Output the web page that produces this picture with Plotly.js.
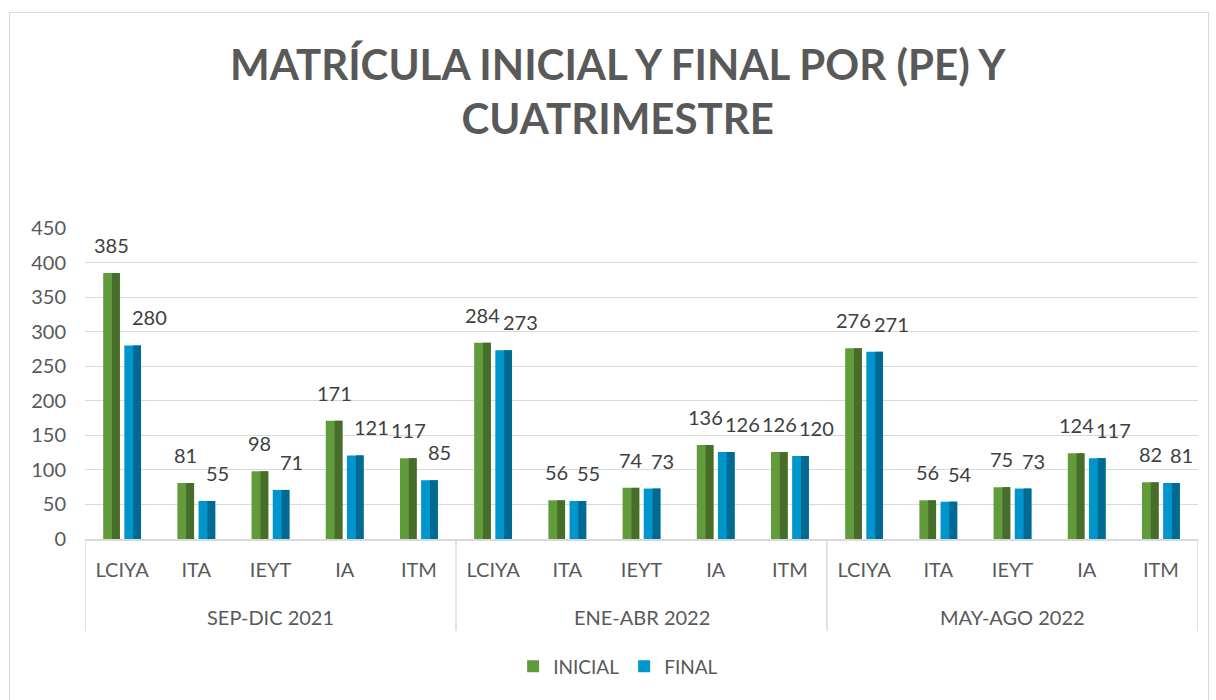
<!DOCTYPE html>
<html>
<head>
<meta charset="utf-8">
<script src="https://cdn.plot.ly/plotly-3.0.1.min.js"></script>
<style>
  html, body { margin: 0; padding: 0; background: #ffffff; }
  #chart { width: 1216px; height: 700px; position: absolute; left: 0; top: 0; }
  #frame { position: absolute; left: 9px; top: 12px; width: 1198px; height: 700px; border: 1.5px solid #d9d9d9; pointer-events: none; }
</style>
</head>
<body>
<div id="chart"></div>
<div id="frame"></div>
<script>
// ---- data ----
const periods = ["SEP-DIC 2021", "ENE-ABR 2022", "MAY-AGO 2022"];
const programs = ["LCIYA", "ITA", "IEYT", "IA", "ITM"];
const inicial = [385, 81, 98, 171, 117, 284, 56, 74, 136, 126, 276, 56, 75, 124, 82];
const final_ = [280, 55, 71, 121, 85, 273, 55, 73, 126, 120, 271, 54, 73, 117, 81];
const seriesNames = ["INICIAL", "FINAL"];
const yTicks = [0, 50, 100, 150, 200, 250, 300, 350, 400, 450];

// build multicategory positions
const xGroups = [], xCats = [];
periods.forEach(p => programs.forEach(c => { xGroups.push(p); xCats.push(c); }));
const idx = xCats.map((_, i) => i);
const nCat = xCats.length;

const textColor = "#595959";
const font = "Lato, 'Open Sans', sans-serif";

const BW = 0.225;
const OFF_G = -0.255, OFF_B = 0.03;
const DARK_FRAC = 0.47;

function bar(vals, name, color, off, w, legend) {
  return {
    type: "bar", x: [xGroups, xCats], y: vals, name: name,
    offset: off, width: w,
    marker: { color: color, line: { width: 0 } },
    showlegend: legend, hoverinfo: legend ? "x+y+name" : "skip"
  };
}

const traces = [
  bar(inicial, seriesNames[0], "#629b3c", OFF_G, BW, true),
  bar(inicial, seriesNames[0], "#466d29", OFF_G + BW * (1 - DARK_FRAC), BW * DARK_FRAC, false),
  bar(final_, seriesNames[1], "#0096cd", OFF_B, BW, true),
  bar(final_, seriesNames[1], "#006a92", OFF_B + BW * (1 - DARK_FRAC), BW * DARK_FRAC, false),
  // invisible helper for the label axis
  { type: "scatter", x: idx, y: inicial, xaxis: "x2", mode: "markers", marker: { opacity: 0 }, showlegend: false, hoverinfo: "skip" }
];

const annotations = [];
idx.forEach(i => {
  annotations.push({
    xref: "x2", yref: "y", x: i + OFF_G + BW / 2, y: inicial[i],
    text: String(inicial[i]), showarrow: false, xanchor: "center", yanchor: "bottom",
    yshift: 14, font: { family: font, size: 20, color: "#404040" }
  });
  annotations.push({
    xref: "x2", yref: "y", x: i + OFF_B + BW / 2, y: final_[i],
    text: String(final_[i]), showarrow: false, xanchor: "left", yanchor: "bottom",
    yshift: 14, xshift: -3, font: { family: font, size: 20, color: "#404040" }
  });
});

// group labels and dividers
const shapes = [];
const divLow = -(631 - 539) / 311;
let start = 0;
periods.forEach((p, g) => {
  const n = xGroups.filter(v => v === p).length;
  annotations.push({
    xref: "x2", yref: "paper", x: start + (n - 1) / 2, y: -(617 - 539) / 311,
    text: p, showarrow: false, xanchor: "center", yanchor: "middle",
    font: { family: font, size: 20, color: textColor }
  });
  shapes.push({
    type: "line", xref: "x2", yref: "paper", x0: start - 0.5, x1: start - 0.5, y0: 0, y1: divLow,
    line: { color: "#d9d9d9", width: 1.5 }
  });
  start += n;
});
shapes.push({
  type: "line", xref: "x2", yref: "paper", x0: start - 0.5, x1: start - 0.5, y0: 0, y1: divLow,
  line: { color: "#d9d9d9", width: 1.5 }
});

const layout = {
  width: 1216, height: 700,
  paper_bgcolor: "rgba(0,0,0,0)", plot_bgcolor: "rgba(0,0,0,0)",
  margin: { l: 85, r: 18, t: 228, b: 161 },
  font: { family: font, color: textColor, size: 20 },
  title: {
    text: "MATRÍCULA INICIAL Y FINAL POR (PE) Y<br>CUATRIMESTRE",
    x: 0.508, xanchor: "center", y: 0.886, yanchor: "top",
    font: { family: font, size: 42, color: textColor, weight: "bold" }
  },
  barmode: "overlay",
  xaxis: {
    type: "multicategory",
    showgrid: false, showline: true, linecolor: "#d9d9d9", linewidth: 1.5,
    showdividers: false, showticklabels: false,
    ticks: "", fixedrange: true
  },
  xaxis2: {
    overlaying: "x", anchor: "y", side: "bottom", range: [-0.5, nCat - 0.5],
    tickvals: idx, ticktext: xCats, showgrid: false, zeroline: false, showline: false,
    ticks: "", ticklabelstandoff: 17,
    tickfont: { family: font, size: 20, color: textColor }, fixedrange: true
  },
  yaxis: {
    range: [0, 450], tickvals: yTicks, ticktext: yTicks.map(String),
    showgrid: true, gridcolor: "#d9d9d9", gridwidth: 1,
    zeroline: false, showline: false, ticks: "",
    ticklabelstandoff: 18,
    tickfont: { family: font, size: 20, color: textColor }, fixedrange: true
  },
  legend: {
    orientation: "h", x: 0.479, xanchor: "center", y: -0.41, yanchor: "middle",
    font: { family: font, size: 19, color: textColor },
    itemwidth: 30, traceorder: "normal"
  },
  annotations: annotations,
  shapes: shapes,
  showlegend: true
};

Plotly.newPlot("chart", traces, layout, { displayModeBar: false, staticPlot: true });
</script>
</body>
</html>
